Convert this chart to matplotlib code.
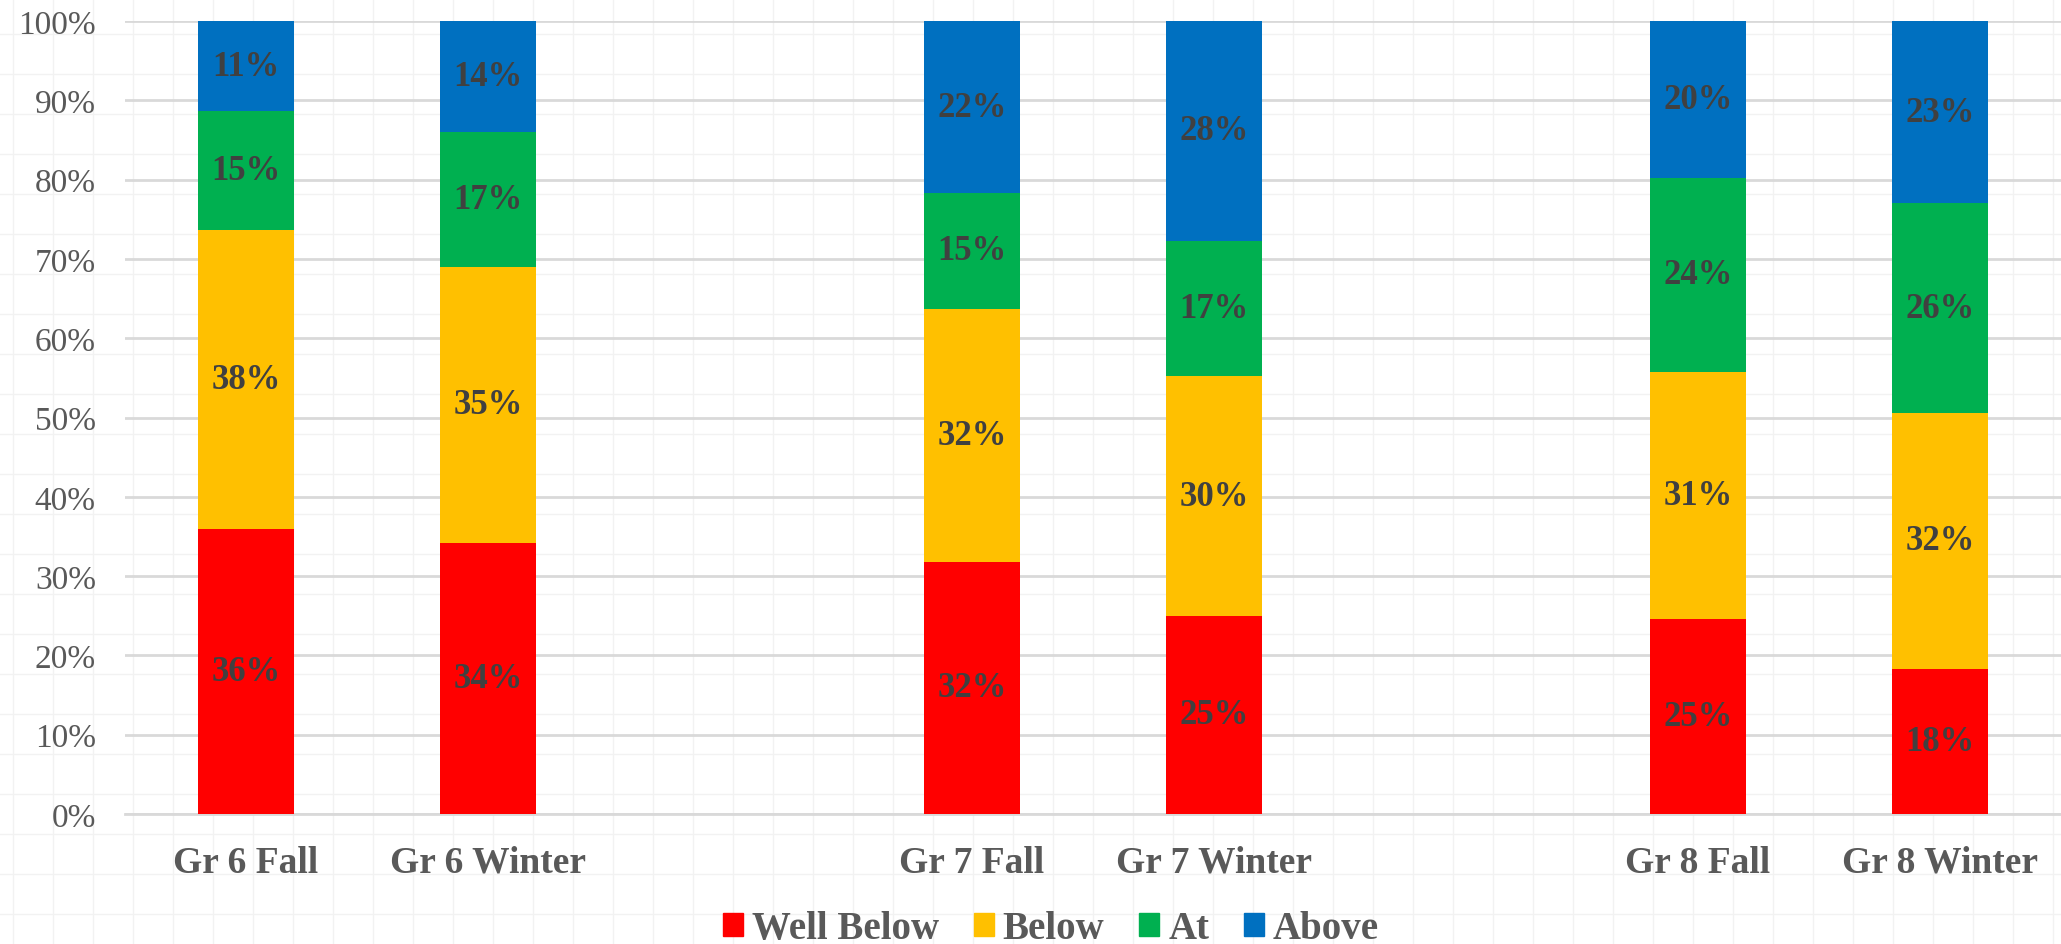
import numpy as np
import matplotlib.pyplot as plt
from matplotlib.patches import Patch
from matplotlib.ticker import PercentFormatter

# Данные (в процентах)
categories = ["Gr 6 Fall", "Gr 6 Winter", "", "Gr 7 Fall", "Gr 7 Winter", "", "Gr 8 Fall", "Gr 8 Winter"]
well_below = [35.9, 34.2, 0, 31.8, 25.0, 0, 24.6, 18.3]
below = [37.7, 34.8, 0, 31.9, 30.2, 0, 31.2, 32.3]
at = [15.0, 17.0, 0, 14.6, 17.1, 0, 24.4, 26.4]
above = [11.4, 14.0, 0, 21.7, 27.7, 0, 19.8, 23.0]

series_names = ["Well Below", "Below", "At", "Above"]
colors = ["#FF0000", "#FFC000", "#00B050", "#0070C0"]

plt.rcParams["font.family"] = ["Liberation Serif", "DejaVu Serif"]

W, H = 2061, 945
fig = plt.figure(figsize=(W / 100, H / 100), dpi=100)

# Фоновая сетка листа
bg = fig.add_axes([0, 0, 1, 1], zorder=-10)
bg.set_xlim(0, W)
bg.set_ylim(H, 0)
bg.set_xticks(np.arange(13, W, 40))
bg.set_yticks(np.arange(35, H, 40))
bg.grid(True, color="#f2f2f2", lw=1)
bg.tick_params(length=0, labelbottom=False, labelleft=False)
for s in bg.spines.values():
    s.set_visible(False)

ax = fig.add_axes([125 / W, 130 / H, 1 - 125 / W, (815 - 22) / H])
ax.patch.set_alpha(0)

x = np.arange(len(categories))
data = [well_below, below, at, above]
bottom = np.zeros(len(categories))
for vals, name, c in zip(data, series_names, colors):
    vals = np.array(vals)
    ax.bar(x, vals, 0.4, bottom=bottom, color=c, label=name, zorder=3)
    for xi, v, b in zip(x, vals, bottom):
        if v > 0:
            ax.text(xi, b + v / 2, f"{round(v):d}%", ha="center", va="center",
                    fontsize=25, fontweight="bold", color="#404040", zorder=4)
    bottom += vals

ax.set_xlim(-0.5, len(categories) - 0.5)
ax.set_ylim(0, 100)
ax.set_yticks(np.arange(0, 101, 10))
ax.yaxis.set_major_formatter(PercentFormatter(decimals=0))
ax.set_xticks(x)
ax.set_xticklabels(categories, fontsize=27, fontweight="bold", color="#595959")
ax.tick_params(axis="y", length=0, pad=21, labelsize=24, labelcolor="#595959")
ax.tick_params(axis="x", length=0, pad=22)
ax.grid(axis="y", color="#d9d9d9", lw=2, zorder=0)
ax.set_axisbelow(True)
for s in ["top", "right", "left"]:
    ax.spines[s].set_visible(False)
ax.spines["bottom"].set_color("#d9d9d9")
ax.spines["bottom"].set_linewidth(2)

# Легенда
handles = [Patch(color=c, label=n) for c, n in zip(colors, series_names)]
leg = fig.legend(handles=handles, loc="center", bbox_to_anchor=(1051 / W, 15 / H),
                 ncol=4, frameon=False, handlelength=0.51, handleheight=0.51,
                 handletextpad=0.23, columnspacing=0.9, prop={"weight": "bold", "size": 28})
for t in leg.get_texts():
    t.set_color("#595959")

fig.savefig("out.png", dpi=100)
